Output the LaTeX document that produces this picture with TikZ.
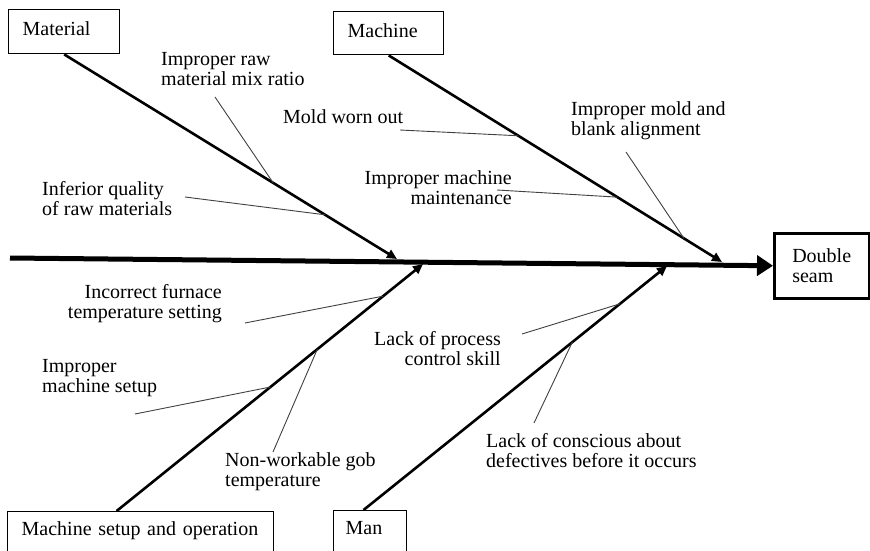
\documentclass[tikz,border=0pt]{standalone}
\usepackage{fontspec}
\setmainfont{Liberation Serif}
\usetikzlibrary{arrows.meta,calc}

\begin{document}
\begin{tikzpicture}[x=1pt,y=-1pt,
  txt/.style={font=\fontsize{20}{20.5}\selectfont},
  lbl/.style={txt, inner sep=0pt},
  causebox/.style={txt, draw, line width=1.4pt, align=left,
    inner xsep=14pt, text height=14pt, text depth=6pt},
  spine/.style={line width=5pt, -{Triangle[length=16pt,width=20pt]}},
  bone/.style={line width=2.6pt, -{Triangle[length=10pt,width=9pt]}},
  twig/.style={line width=0.9pt, draw=black!75},
]
\useasboundingbox (0,0) rectangle (870,551);

% cause category boxes
\node[causebox, anchor=north west, minimum height=44pt, text width=83pt] (matbox) at (8,9) {Material};
\node[causebox, anchor=north west, minimum height=43pt, text width=82pt] (macbox) at (333,11) {Machine};
\node[causebox, anchor=north west, inner ysep=10pt, text depth=20pt, text width=238pt] (msbox) at (7,511) {Machine setup and operation};
\node[causebox, anchor=north west, inner ysep=10pt, text depth=20pt, inner xsep=12pt, text width=49pt] (manbox) at (333,510) {Man};

% effect box
\node[txt, draw, line width=2.5pt, align=left, anchor=north west, inner xsep=18pt,
  text width=59pt, minimum height=65pt] (effect) at (773,232) {Double\\seam};

% spine
\coordinate (tail) at (10,258);
\draw[spine] (tail) -- (effect.west);

% bone tips on the spine
\coordinate (mattip) at (397,259);
\coordinate (mactip) at (722,262);
\coordinate (mstip) at (423,264);
\coordinate (mantip) at (667,266);

\coordinate (msroot) at ($(msbox.north west)!0.41!(msbox.north east)$);
\coordinate (manroot) at ($(manbox.north west)!0.41!(manbox.north east)$);

\draw[bone] (matbox.south) -- (mattip);
\draw[bone] (macbox.south) -- (mactip);
\draw[bone] (msroot) -- (mstip);
\draw[bone] (manroot) -- (mantip);

% sub-cause labels (two-line labels are placed by the baseline of their last line)
\node[lbl, align=left, anchor=base west] (rawmix) at (161,85.5) {Improper raw\\material mix ratio};
\node[lbl, align=left, anchor=base west] (inferior) at (42,215.5) {Inferior quality\\of raw materials};
\node[lbl, align=left, anchor=base west] (worn) at (283,123) {Mold worn out};
\node[lbl, align=right, anchor=base east] (maint) at (512,204.5) {Improper machine\\maintenance};
\node[lbl, align=left, anchor=base west] (align) at (571,135.5) {Improper mold and\\blank alignment};
\node[lbl, align=right, anchor=base east] (furnace) at (222,318.5) {Incorrect furnace\\temperature setting};
\node[lbl, align=left, anchor=base west] (setup) at (42,392.5) {Improper\\machine setup};
\node[lbl, align=left, anchor=base west] (gob) at (225,486.5) {Non-workable gob\\temperature};
\node[lbl, align=right, anchor=base east] (skill) at (501,365.5) {Lack of process\\control skill};
\node[lbl, align=left, anchor=base west] (conscious) at (486,467.5) {Lack of conscious about\\defectives before it occurs};

% free ends of the sub-cause lines
\coordinate (rawmixE) at (215,97);
\coordinate (inferiorE) at (185,197);
\coordinate (wornE) at (400,130);
\coordinate (maintE) at (497,190);
\coordinate (alignE) at (626,152);
\coordinate (furnaceE) at (245,323);
\coordinate (setupE) at (135,414);
\coordinate (gobE) at (273,452);
\coordinate (skillE) at (522,334);
\coordinate (consciousE) at (534,423);

% sub-cause lines meeting the bones
\draw[twig] (rawmixE) -- ($(matbox.south)!0.628!(mattip)$);
\draw[twig] (inferiorE) -- ($(matbox.south)!0.784!(mattip)$);
\draw[twig] (wornE) -- ($(macbox.south)!0.389!(mactip)$);
\draw[twig] (maintE) -- ($(macbox.south)!0.686!(mactip)$);
\draw[twig] (alignE) -- ($(macbox.south)!0.886!(mactip)$);
\draw[twig] (furnaceE) -- ($(msroot)!0.870!(mstip)$);
\draw[twig] (setupE) -- ($(msroot)!0.502!(mstip)$);
\draw[twig] (gobE) -- ($(msroot)!0.655!(mstip)$);
\draw[twig] (skillE) -- ($(manroot)!0.845!(mantip)$);
\draw[twig] (consciousE) -- ($(manroot)!0.688!(mantip)$);
\end{tikzpicture}
\end{document}
